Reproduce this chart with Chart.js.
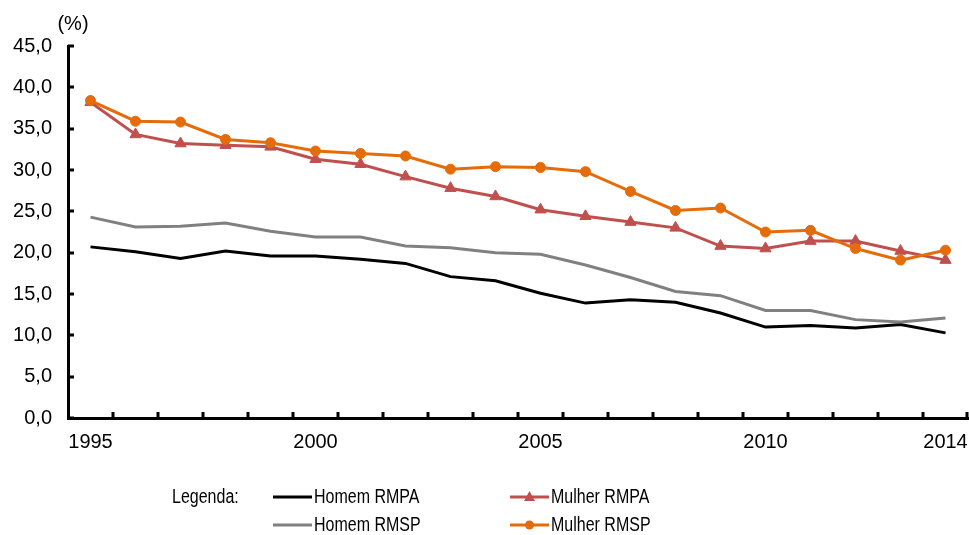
<!DOCTYPE html>
<html>
<head>
<meta charset="utf-8">
<script src="https://cdn.jsdelivr.net/npm/chart.js@4/dist/chart.umd.min.js"></script>
<style>
  html, body { margin: 0; padding: 0; background: #fff; }
  #wrap { width: 969px; height: 535px; position: relative; }
</style>
</head>
<body>
<div id="wrap"><canvas id="c"></canvas></div>
<script>
// Anos da série
const years = ['1995','1996','1997','1998','1999','2000','2001','2002','2003','2004',
               '2005','2006','2007','2008','2009','2010','2011','2012','2013','2014'];
// Anos rotulados no eixo horizontal
const yearLabels = ['1995','2000','2005','2010','2014'];

// Taxas (%) por sexo e região metropolitana
const homemRMPA  = [20.7, 20.1, 19.3, 20.2, 19.6, 19.6, 19.2, 18.7, 17.1, 16.6,
                    15.1, 13.9, 14.3, 14.0, 12.7, 11.0, 11.2, 10.9, 11.3, 10.3];
const homemRMSP  = [24.3, 23.1, 23.2, 23.6, 22.6, 21.9, 21.9, 20.8, 20.6, 20.0,
                    19.8, 18.5, 17.0, 15.3, 14.8, 13.0, 13.0, 11.9, 11.6, 12.1];
const mulherRMPA = [38.2, 34.3, 33.2, 33.0, 32.8, 31.3, 30.7, 29.2, 27.8, 26.8,
                    25.2, 24.4, 23.7, 23.0, 20.8, 20.5, 21.4, 21.4, 20.2, 19.1];
const mulherRMSP = [38.4, 35.9, 35.8, 33.7, 33.3, 32.3, 32.0, 31.7, 30.1, 30.4,
                    30.3, 29.8, 27.4, 25.1, 25.4, 22.5, 22.7, 20.5, 19.1, 20.3];

// Limites do eixo vertical
const yMin = 0, yMax = 45, yStep = 5;

const C_BLACK  = '#000000';
const C_GRAY   = '#808080';
const C_RED    = '#C0504D';
const C_ORANGE = '#E46C0A';

const FONT = '"Liberation Sans", Arial, sans-serif';

const series = [
  { label: 'Homem RMPA',  data: homemRMPA,  color: C_BLACK,  style: false,      radius: 0,   order: 4 },
  { label: 'Homem RMSP',  data: homemRMSP,  color: C_GRAY,   style: false,      radius: 0,   order: 3 },
  { label: 'Mulher RMPA', data: mulherRMPA, color: C_RED,    style: 'triangle', radius: 6.5, order: 2 },
  { label: 'Mulher RMSP', data: mulherRMSP, color: C_ORANGE, style: 'circle',   radius: 5,   order: 1 }
];

const datasets = series.map(s => ({
  label: s.label,
  data: s.data,
  borderColor: s.color,
  backgroundColor: s.color,
  borderWidth: 3,
  pointStyle: s.style || 'circle',
  pointRadius: s.radius,
  pointHoverRadius: s.radius,
  pointBorderWidth: 1,
  pointBorderColor: s.color,
  pointBackgroundColor: s.color,
  tension: 0,
  order: s.order
}));

// Texto condensado na horizontal (legenda)
function condensedText(ctx, text, x, y, sx) {
  ctx.save();
  ctx.translate(x, y);
  ctx.scale(sx, 1);
  ctx.fillText(text, 0, 0);
  ctx.restore();
}

// Marcas de divisão voltadas para dentro da área do gráfico, unidade "(%)" e legenda
const decorations = {
  id: 'decorations',
  afterDraw(chart) {
    const ctx = chart.ctx;
    const area = chart.chartArea;
    const xs = chart.scales.x;
    const ys = chart.scales.y;
    ctx.save();
    ctx.strokeStyle = '#000';
    ctx.lineWidth = 3;
    ctx.lineCap = 'butt';

    // marcas do eixo x, entre as categorias
    const step = xs.getPixelForValue(1) - xs.getPixelForValue(0);
    for (let i = 1; i <= years.length; i++) {
      const x = Math.min(Math.round(xs.getPixelForValue(i) - step / 2), area.right - 1);
      ctx.beginPath();
      ctx.moveTo(x, area.bottom);
      ctx.lineTo(x, area.bottom - 6);
      ctx.stroke();
    }
    // marcas do eixo y
    for (let v = yMin; v <= yMax; v += yStep) {
      const y = Math.round(ys.getPixelForValue(v));
      ctx.beginPath();
      ctx.moveTo(area.left, y);
      ctx.lineTo(area.left + 6, y);
      ctx.stroke();
    }

    // unidade
    ctx.fillStyle = '#000';
    ctx.font = '20px ' + FONT;
    ctx.textAlign = 'center';
    ctx.textBaseline = 'middle';
    ctx.fillText('(%)', 73, 24);

    // legenda
    const SX = 0.8;
    ctx.font = '20px ' + FONT;
    ctx.textAlign = 'left';
    condensedText(ctx, 'Legenda:', 172, 497, SX);
    const cols = [273, 510];
    const rows = [497, 525];
    const pos = {
      'Homem RMPA':  [0, 0],
      'Mulher RMPA': [1, 0],
      'Homem RMSP':  [0, 1],
      'Mulher RMSP': [1, 1]
    };
    series.forEach(s => {
      const [c, r] = pos[s.label];
      const x0 = cols[c], y = rows[r];
      const x1 = x0 + 39;
      ctx.strokeStyle = s.color;
      ctx.lineWidth = 3;
      ctx.beginPath();
      ctx.moveTo(x0, y);
      ctx.lineTo(x1, y);
      ctx.stroke();
      const mx = (x0 + x1) / 2;
      ctx.fillStyle = s.color;
      if (s.style === 'circle') {
        ctx.beginPath();
        ctx.arc(mx, y, 4.5, 0, Math.PI * 2);
        ctx.fill();
      } else if (s.style === 'triangle') {
        ctx.beginPath();
        ctx.moveTo(mx, y - 6);
        ctx.lineTo(mx + 5.5, y + 4);
        ctx.lineTo(mx - 5.5, y + 4);
        ctx.closePath();
        ctx.fill();
      }
      ctx.fillStyle = '#000';
      condensedText(ctx, s.label, x1 + 2, y, SX);
    });
    ctx.restore();
  }
};

new Chart(document.getElementById('c'), {
  type: 'line',
  data: { labels: years, datasets },
  options: {
    responsive: true,
    maintainAspectRatio: false,
    animation: false,
    events: [],
    layout: { autoPadding: false, padding: { left: 0, right: 1, top: 46, bottom: 0 } },
    plugins: {
      legend: { display: false },
      tooltip: { enabled: false },
      title: { display: false }
    },
    scales: {
      x: {
        type: 'category',
        offset: true,
        grid: { display: false, drawTicks: false, offset: true },
        border: { display: true, color: '#000', width: 3 },
        ticks: {
          autoSkip: false,
          maxRotation: 0,
          minRotation: 0,
          padding: 12,
          color: '#000',
          font: { family: FONT, size: 20 },
          callback(value, index) {
            const lab = years[index];
            return yearLabels.includes(lab) ? lab : '';
          }
        },
        afterFit(scale) {
          scale.height = 117;
          scale.paddingLeft = 0;
          scale.paddingRight = 0;
        }
      },
      y: {
        min: yMin,
        max: yMax,
        grid: { display: false, drawTicks: false },
        border: { display: true, color: '#000', width: 3 },
        ticks: {
          stepSize: yStep,
          padding: 16,
          color: '#000',
          font: { family: FONT, size: 20 },
          callback(v) { return v.toFixed(1).replace('.', ','); }
        },
        afterFit(scale) { scale.width = 68; }
      }
    }
  },
  plugins: [decorations]
});
</script>
</body>
</html>
